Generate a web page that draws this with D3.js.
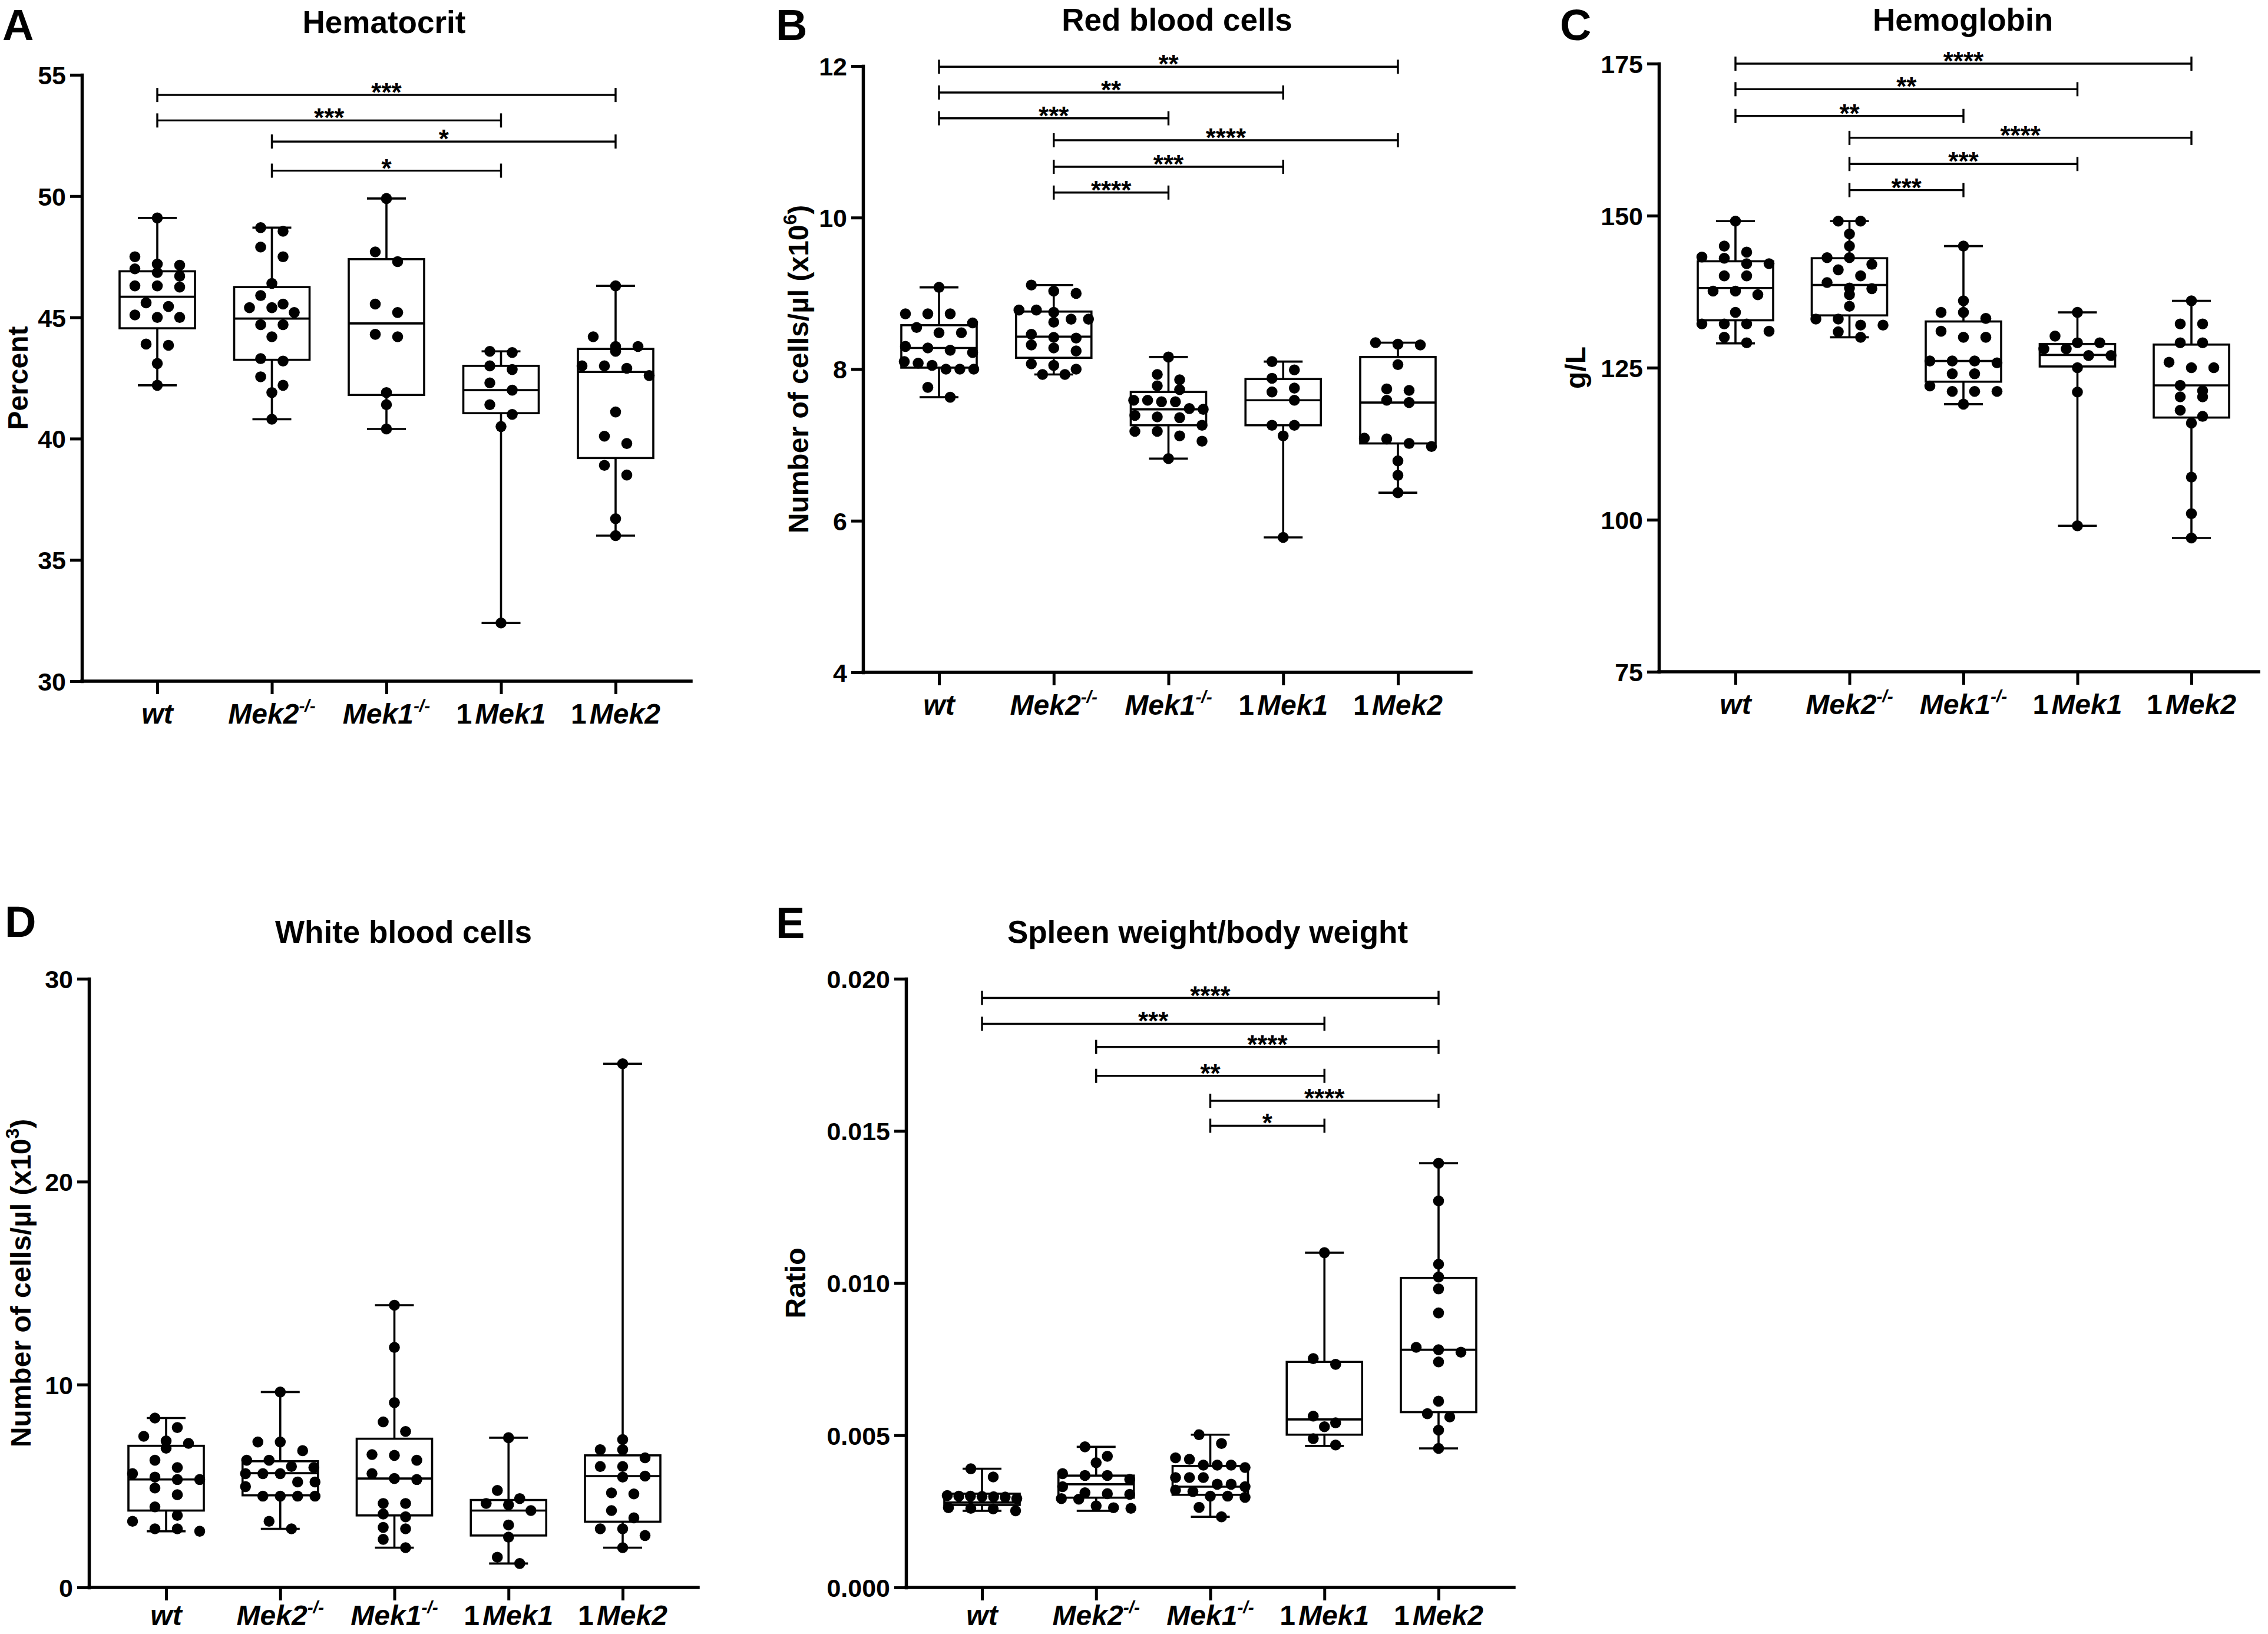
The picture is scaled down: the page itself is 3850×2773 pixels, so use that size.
<!DOCTYPE html>
<html lang="en">
<head>
<meta charset="UTF-8">
<title>Blood parameters</title>
<script src="https://d3js.org/d3.v7.min.js"></script>
<style>
  body { margin: 0; background: #fff; }
  svg text { font-family: "Liberation Sans", Arial, Helvetica, sans-serif; font-weight: bold; fill: #000; }
</style>
</head>
<body>
<svg width="3850" height="2773"></svg>
<script>
const groups = ["wt", "Mek2", "Mek1", "dMek1", "dMek2"];
// label pieces: [plain prefix, italic name, superscript]
const groupLabels = [["", "wt", ""], ["", "Mek2", "-/-"], ["", "Mek1", "-/-"], ["1", "Mek1", ""], ["1", "Mek2", ""]];

// A - Hematocrit
const hctTicks = [30, 35, 40, 45, 50, 55];
const hctPoints = [
  [49.1, 47.5, 47.2, 47.15, 47.0, 46.85, 46.7, 46.3, 46.25, 46.3, 45.45, 45.6, 45.1, 45.0, 45.0, 43.9, 43.85, 43.1, 42.2],
  [48.7, 48.55, 47.9, 47.5, 46.4, 45.9, 45.55, 45.4, 45.4, 45.2, 44.7, 44.7, 44.2, 43.2, 43.3, 42.55, 42.2, 41.9, 40.8],
  [49.9, 47.7, 47.3, 45.55, 45.2, 44.3, 44.2, 41.9, 41.4, 40.4],
  [43.6, 43.55, 43.0, 42.85, 42.3, 42.0, 41.4, 41.0, 40.5, 32.4],
  [46.3, 44.2, 43.8, 43.6, 43.8, 43.0, 43.0, 42.9, 42.6, 41.1, 40.1, 39.8, 38.9, 38.5, 36.7, 36.0]
];
const hctBox = [[42.2, 44.55, 45.85, 46.9, 49.1], [40.8, 43.25, 44.95, 46.25, 48.7], [40.4, 41.8, 44.75, 47.4, 49.9], [32.4, 41.05, 42.0, 43.0, 43.6], [36.0, 39.2, 42.75, 43.7, 46.3]];
const hctSig = [["wt", "dMek2", 54.17, "***"], ["wt", "dMek1", 53.12, "***"], ["Mek2", "dMek2", 52.25, "*"], ["Mek2", "dMek1", 51.05, "*"]];

// B - Red blood cells
const rbcTicks = [4, 6, 8, 10, 12];
const rbcPoints = [
  [9.08, 8.73, 8.73, 8.73, 8.61, 8.55, 8.48, 8.48, 8.30, 8.28, 8.25, 8.22, 8.10, 8.08, 8.05, 8.0, 8.0, 8.0, 7.76, 7.63],
  [9.11, 9.03, 9.0, 8.78, 8.78, 8.75, 8.66, 8.66, 8.62, 8.46, 8.42, 8.41, 8.32, 8.28, 8.24, 8.07, 8.05, 8.0, 7.93, 7.93],
  [8.16, 7.93, 7.86, 7.78, 7.73, 7.59, 7.59, 7.57, 7.57, 7.48, 7.47, 7.39, 7.37, 7.36, 7.26, 7.18, 7.18, 7.12, 7.05, 6.82],
  [8.10, 7.99, 7.88, 7.75, 7.70, 7.59, 7.26, 7.26, 7.12, 5.78],
  [8.35, 8.33, 8.32, 8.06, 7.74, 7.72, 7.59, 7.56, 7.09, 7.08, 7.02, 6.98, 6.79, 6.6, 6.37]
];
const rbcBox = [[7.63, 8.02, 8.28, 8.58, 9.08], [7.93, 8.15, 8.43, 8.76, 9.11], [6.82, 7.26, 7.47, 7.70, 8.16], [5.78, 7.26, 7.59, 7.87, 8.10], [6.37, 7.02, 7.56, 8.16, 8.35]];
const rbcSig = [["wt", "dMek2", 11.99, "**"], ["wt", "dMek1", 11.65, "**"], ["wt", "Mek1", 11.31, "***"], ["Mek2", "dMek2", 11.02, "****"], ["Mek2", "dMek1", 10.67, "***"], ["Mek2", "Mek1", 10.33, "****"]];

// C - Hemoglobin
const hgbTicks = [75, 100, 125, 150, 175];
const hgbPoints = [
  [149.1, 145.0, 144.0, 143.2, 143.0, 142.1, 142.1, 140.1, 140.1, 137.6, 137.6, 137.0, 134.1, 132.2, 132.2, 132.2, 131.0, 130.0, 129.1],
  [149.1, 149.1, 147.0, 145.0, 143.1, 143.1, 142.0, 141.1, 140.1, 139.0, 138.1, 138.0, 137.0, 135.1, 133.0, 133.0, 132.0, 132.0, 130.9, 130.0],
  [145.0, 136.0, 134.1, 134.1, 133.1, 131.0, 130.0, 130.0, 126.1, 126.1, 126.1, 125.8, 124.0, 124.0, 122.0, 121.1, 121.1, 121.1, 119.0],
  [134.1, 130.2, 129.1, 129.1, 128.1, 128.1, 127.0, 127.0, 125.0, 121.0, 99.0],
  [136.0, 132.2, 132.2, 129.1, 129.1, 125.9, 125.0, 125.0, 122.1, 121.2, 120.2, 120.2, 118.0, 117.0, 115.9, 107.0, 101.0, 97.0]
];
const hgbBox = [[129.0, 132.8, 138.1, 142.5, 149.1], [130.0, 133.6, 138.6, 143.0, 149.1], [119.0, 122.7, 126.1, 132.6, 145.0], [99.0, 125.2, 127.1, 128.9, 134.1], [97.0, 116.8, 122.1, 128.8, 136.0]];
const hgbSig = [["wt", "dMek2", 175.0, "****"], ["wt", "dMek1", 170.8, "**"], ["wt", "Mek1", 166.4, "**"], ["Mek2", "dMek2", 162.8, "****"], ["Mek2", "dMek1", 158.5, "***"], ["Mek2", "Mek1", 154.2, "***"]];

// D - White blood cells
const wbcTicks = [0, 10, 20, 30];
const wbcPoints = [
  [8.35, 7.88, 7.45, 7.22, 7.1, 6.86, 6.27, 5.91, 5.61, 5.44, 5.32, 5.32, 4.9, 4.57, 3.97, 3.55, 3.26, 2.89, 2.89, 2.77],
  [9.63, 7.17, 7.17, 6.74, 6.27, 6.27, 5.96, 5.91, 5.61, 5.61, 5.61, 5.2, 5.2, 4.97, 4.5, 4.5, 4.5, 4.5, 3.26, 2.89],
  [13.91, 11.83, 9.11, 8.16, 7.69, 6.55, 6.51, 6.27, 5.61, 5.37, 5.32, 4.14, 4.14, 3.62, 3.48, 2.96, 2.89, 2.37, 1.96],
  [7.38, 4.78, 4.38, 4.14, 4.07, 3.79, 3.08, 2.48, 1.49, 1.18],
  [25.81, 7.29, 6.79, 6.79, 6.39, 5.96, 5.96, 5.49, 5.44, 4.66, 4.61, 3.79, 3.43, 2.89, 2.89, 2.56, 1.96]
];
const wbcBox = [[2.77, 3.79, 5.32, 6.98, 8.35], [2.89, 4.54, 5.63, 6.22, 9.63], [1.96, 3.55, 5.37, 7.33, 13.91], [1.18, 2.56, 3.79, 4.31, 7.38], [1.96, 3.24, 5.49, 6.51, 25.81]];
const wbcSig = [];

// E - Spleen weight / body weight
const spleenTicks = [0, 0.005, 0.010, 0.015, 0.020];
const spleenPoints = [
  [0.0039, 0.00363, 0.00302, 0.00300, 0.00300, 0.00299, 0.00298, 0.00297, 0.00292, 0.00262, 0.00260, 0.00258, 0.00252],
  [0.00462, 0.00431, 0.0041, 0.00374, 0.00368, 0.00368, 0.00355, 0.00331, 0.00311, 0.00308, 0.00306, 0.00292, 0.00290, 0.00268, 0.00262, 0.0026],
  [0.00502, 0.00473, 0.00426, 0.00421, 0.00402, 0.00402, 0.00394, 0.00402, 0.00361, 0.00361, 0.00361, 0.00339, 0.00339, 0.00331, 0.0032, 0.00300, 0.00296, 0.00300, 0.00315, 0.00263, 0.00232],
  [0.0110, 0.00752, 0.00733, 0.00563, 0.00541, 0.00528, 0.00489, 0.00468],
  [0.01394, 0.0127, 0.01062, 0.0102, 0.00981, 0.00902, 0.00789, 0.00781, 0.00773, 0.00741, 0.00612, 0.00571, 0.0056, 0.00517, 0.00457]
];
const spleenBox = [[0.00252, 0.00271, 0.00279, 0.00308, 0.0039], [0.00252, 0.00295, 0.00339, 0.003675, 0.00462], [0.00232, 0.003044, 0.00331, 0.00399, 0.00502], [0.00465, 0.00502, 0.00552, 0.00741, 0.0110], [0.00457, 0.00576, 0.00781, 0.01017, 0.01394]];
const spleenSig = [["wt", "dMek2", 0.01937, "****"], ["wt", "dMek1", 0.01852, "***"], ["Mek2", "dMek2", 0.01776, "****"], ["Mek2", "dMek1", 0.01681, "**"], ["Mek1", "dMek2", 0.01599, "****"], ["Mek1", "dMek1", 0.01517, "*"]];

const svg = d3.select("svg");

// layout of each panel (pixel positions)
const panels = [
  {letter: "A", lx: 4, ly: 68, title: "Hematocrit", tx: 652, ty: 56, ylab: ["Percent"], ylx: 47, labDy: 72,
   x0: 139, xEnd: 1173, xFirst: 267, xLast: 1045, yTop: 127, yBottom: 1156,
   ticks: hctTicks, fmt: d3.format("d"), pts: hctPoints, box: hctBox, sig: hctSig},
  {letter: "B", lx: 1317, ly: 68, title: "Red blood cells", tx: 1998, ty: 52, ylab: ["Number of cells/\u00b5l (x10", "6", ")"], ylx: 1372, labDy: 72,
   x0: 1465, xEnd: 2497, xFirst: 1594, xLast: 2373, yTop: 112, yBottom: 1141,
   ticks: rbcTicks, fmt: d3.format("d"), pts: rbcPoints, box: rbcBox, sig: rbcSig},
  {letter: "C", lx: 2648, ly: 68, title: "Hemoglobin", tx: 3332, ty: 52, ylab: ["g/L"], ylx: 2691, labDy: 72,
   x0: 2816, xEnd: 3834, xFirst: 2946, xLast: 3720, yTop: 108, yBottom: 1140,
   ticks: hgbTicks, fmt: d3.format("d"), pts: hgbPoints, box: hgbBox, sig: hgbSig},
  {letter: "D", lx: 8, ly: 1590, title: "White blood cells", tx: 685, ty: 1600, ylab: ["Number of cells/\u00b5l (x10", "3", ")"], ylx: 52, labDy: 64,
   x0: 151, xEnd: 1185, xFirst: 282, xLast: 1057, yTop: 1661, yBottom: 2694,
   ticks: wbcTicks, fmt: d3.format("d"), pts: wbcPoints, box: wbcBox, sig: wbcSig},
  {letter: "E", lx: 1317, ly: 1592, title: "Spleen weight/body weight", tx: 2050, ty: 1600, ylab: ["Ratio"], ylx: 1367, labDy: 64,
   x0: 1538, xEnd: 2570, xFirst: 1667, xLast: 2442, yTop: 1661, yBottom: 2694,
   ticks: spleenTicks, fmt: d3.format(".3f"), pts: spleenPoints, box: spleenBox, sig: spleenSig}
];

const dotR = 9.3, colStep = 38, maxSpread = 118, rowH = 17;

// GraphPad-like scatter: points of similar height share a row and spread sideways
function swarm(vals, cx, y) {
  const pts = vals.map(v => ({v: v, py: y(v)})).sort((a, b) => a.py - b.py);
  const rows = [];
  let cur = null;
  pts.forEach(p => {
    if (!cur || p.py - cur.y0 > rowH) { cur = {y0: p.py, items: []}; rows.push(cur); }
    cur.items.push(p);
  });
  rows.forEach(r => {
    const n = r.items.length;
    const s = n > 1 ? Math.min(colStep, maxSpread / (n - 1)) : 0;
    r.items.forEach((p, i) => { p.px = cx + (i - (n - 1) / 2) * s; });
  });
  return pts;
}

function drawPanel(p) {
  const g = svg.append("g");
  const y = d3.scaleLinear().domain(d3.extent(p.ticks)).range([p.yBottom, p.yTop]);
  const x = d3.scalePoint().domain(groups).range([p.xFirst, p.xLast]);

  // y axis
  const ya = g.append("g").attr("transform", `translate(${p.x0},0)`)
    .call(d3.axisLeft(y).tickValues(p.ticks).tickFormat(p.fmt).tickSize(20).tickSizeOuter(0).tickPadding(7));
  ya.attr("font-size", 43);
  ya.select(".domain").attr("stroke-width", 5.5).attr("stroke-linecap", "square");
  ya.selectAll(".tick line").attr("stroke-width", 5);
  ya.selectAll(".tick text").attr("dy", "0.36em");

  // x axis
  const xa = g.append("g").attr("transform", `translate(0,${p.yBottom})`)
    .call(d3.axisBottom(x).tickSize(22).tickSizeOuter(0).tickFormat(""));
  xa.select(".domain").remove();
  xa.selectAll(".tick line").attr("stroke-width", 5);
  g.append("line")
    .attr("x1", p.x0).attr("x2", p.xEnd).attr("y1", p.yBottom).attr("y2", p.yBottom)
    .attr("stroke", "#000").attr("stroke-width", 5.5).attr("stroke-linecap", "square");

  // category labels
  groups.forEach((k, i) => {
    const lab = groupLabels[i];
    const t = g.append("text").attr("x", x(k)).attr("y", p.yBottom + p.labDy)
      .attr("text-anchor", "middle").attr("font-size", 48);
    if (lab[0]) t.append("tspan").text(lab[0]);
    t.append("tspan").attr("font-style", "italic").attr("dx", lab[0] ? 5 : 0).text(lab[1]);
    if (lab[2]) t.append("tspan").attr("font-style", "italic").attr("font-size", 30).attr("dy", -20).text(lab[2]);
  });

  // title and panel letter
  g.append("text").attr("x", p.tx).attr("y", p.ty).attr("text-anchor", "middle").attr("font-size", 53).text(p.title);
  g.append("text").attr("x", p.lx).attr("y", p.ly).attr("font-size", 74).text(p.letter);

  // y label
  const yl = g.append("text")
    .attr("transform", `translate(${p.ylx},${(p.yTop + p.yBottom) / 2}) rotate(-90)`)
    .attr("text-anchor", "middle").attr("font-size", 48);
  yl.append("tspan").text(p.ylab[0]);
  if (p.ylab.length > 1) {
    yl.append("tspan").attr("font-size", 32).attr("dy", -20).text(p.ylab[1]);
    yl.append("tspan").attr("dy", 20).text(p.ylab[2]);
  }

  // boxes and whiskers
  const bw = 64, cw = 33;
  groups.forEach((k, i) => {
    const s = p.box[i], cx = x(k);
    const bg = g.append("g").attr("stroke", "#000").attr("stroke-width", 3.6).attr("fill", "#fff");
    bg.append("line").attr("x1", cx).attr("x2", cx).attr("y1", y(s[0])).attr("y2", y(s[4]));
    bg.append("line").attr("x1", cx - cw).attr("x2", cx + cw).attr("y1", y(s[0])).attr("y2", y(s[0]));
    bg.append("line").attr("x1", cx - cw).attr("x2", cx + cw).attr("y1", y(s[4])).attr("y2", y(s[4]));
    bg.append("rect").attr("x", cx - bw).attr("width", 2 * bw)
      .attr("y", y(s[3])).attr("height", y(s[1]) - y(s[3]));
    bg.append("line").attr("x1", cx - bw).attr("x2", cx + bw).attr("y1", y(s[2])).attr("y2", y(s[2]));

    g.append("g").selectAll("circle")
      .data(swarm(p.pts[i], cx, y))
      .join("circle")
      .attr("cx", d => d.px).attr("cy", d => d.py).attr("r", dotR).attr("fill", "#000");
  });

  // significance brackets
  p.sig.forEach(s => {
    const x1 = x(s[0]), x2 = x(s[1]), yy = y(s[2]);
    const sg = g.append("g").attr("stroke", "#000").attr("stroke-width", 3.4);
    sg.append("line").attr("x1", x1).attr("x2", x2).attr("y1", yy).attr("y2", yy);
    sg.append("line").attr("x1", x1).attr("x2", x1).attr("y1", yy - 12).attr("y2", yy + 12);
    sg.append("line").attr("x1", x2).attr("x2", x2).attr("y1", yy - 12).attr("y2", yy + 12);
    g.append("text").attr("x", (x1 + x2) / 2).attr("y", yy + 11)
      .attr("text-anchor", "middle").attr("font-size", 44).text(s[3]);
  });
}

panels.forEach(drawPanel);
</script>
</body>
</html>
